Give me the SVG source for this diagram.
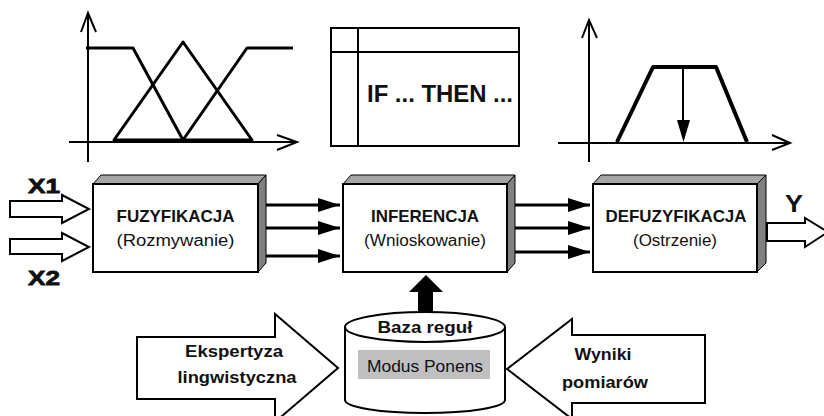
<svg xmlns="http://www.w3.org/2000/svg" width="824" height="416" viewBox="0 0 824 416">
<style>
.ln{fill:none;stroke:#000;stroke-width:2}
.mf{fill:none;stroke:#000;stroke-width:3;stroke-linejoin:round}
.front{fill:#fff;stroke:#000;stroke-width:2}
.top{fill:#a6a6a6;stroke:#000;stroke-width:1}
.side{fill:#808080;stroke:#000;stroke-width:1}
.hollow{fill:#fff;stroke:#000;stroke-width:2;stroke-linejoin:miter}
.b{font-family:"Liberation Sans",Arial,sans-serif;font-weight:bold;fill:#111}
.r{font-family:"Liberation Sans",Arial,sans-serif;fill:#111}
.conn{stroke:#000;stroke-width:3;fill:none}
</style>
<defs>
<marker id="ah" viewBox="0 0 10 10" refX="10" refY="5" markerWidth="22" markerHeight="14" markerUnits="userSpaceOnUse" orient="auto" preserveAspectRatio="none">
<path d="M0,0 L10,5 L0,10 Z" fill="#000"/>
</marker>
</defs>
<rect width="824" height="416" fill="#fff"/>

<g id="fuzzy-sets">
<path class="ln" d="M88,13 L88,162 M81,32 L88,13 L96,32 M69,142 L297,142 M277,135 L297,142 L277,150"/>
<path class="mf" d="M86,48 L133,48 L183,140"/>
<path class="mf" d="M114,140 L183,42 L252,140 Z"/>
<path class="mf" d="M183,140 L247,48 L293,48"/>
</g>

<g id="rule-table">
<rect x="331" y="28" width="188" height="118" class="ln"/>
<path class="ln" d="M331,52 L519,52 M358,28 L358,146"/>
<text class="b" x="367" y="102" font-size="23" textLength="146" lengthAdjust="spacingAndGlyphs">IF ... THEN ...</text>
</g>

<g id="defuzzy-set">
<path class="ln" d="M589,20 L589,162 M582,38 L589,20 L597,38 M558,143 L790,143 M772,135 L790,143 L772,150"/>
<path d="M617,142 L653,67 L716,67 L747,142" fill="none" stroke="#000" stroke-width="4" stroke-linejoin="round"/>
<path d="M683,67 L683,122" stroke="#000" stroke-width="2"/>
<path d="M677,120 L690,120 L683.5,142 Z" fill="#000"/>
</g>

<g id="fuzyfikacja">
<polygon class="top" points="93,184 101,175 266,175 258,184"/>
<polygon class="side" points="258,184 266,175 266,263 258,272"/>
<rect class="front" x="93" y="184" width="165" height="88"/>
<text class="b" x="175.5" y="222" font-size="17" text-anchor="middle" textLength="118" lengthAdjust="spacingAndGlyphs">FUZYFIKACJA</text>
<text class="r" x="175.5" y="246" font-size="16" text-anchor="middle" textLength="118" lengthAdjust="spacingAndGlyphs">(Rozmywanie)</text>
</g>

<g id="inferencja">
<polygon class="top" points="343,184 351,175 515,175 507,184"/>
<polygon class="side" points="507,184 515,175 515,263 507,272"/>
<rect class="front" x="343" y="184" width="164" height="88"/>
<text class="b" x="425" y="222" font-size="17" text-anchor="middle" textLength="108" lengthAdjust="spacingAndGlyphs">INFERENCJA</text>
<text class="r" x="425" y="246" font-size="16" text-anchor="middle" textLength="122" lengthAdjust="spacingAndGlyphs">(Wnioskowanie)</text>
</g>

<g id="defuzyfikacja">
<polygon class="top" points="593,184 601,175 766,175 757,184"/>
<polygon class="side" points="757,184 766,175 766,263 757,272"/>
<rect class="front" x="593" y="184" width="164" height="88"/>
<text class="b" x="676" y="222" font-size="17" text-anchor="middle" textLength="141" lengthAdjust="spacingAndGlyphs">DEFUZYFIKACJA</text>
<text class="r" x="675" y="246" font-size="16" text-anchor="middle" textLength="84" lengthAdjust="spacingAndGlyphs">(Ostrzenie)</text>
</g>

<g id="baza-regul">
<path d="M345,327 L345,400 A80,13 0 0 0 505,400 L505,327" fill="#fff" stroke="#000" stroke-width="2"/>
<ellipse cx="425" cy="327" rx="80" ry="15" fill="#fff" stroke="#000" stroke-width="2"/>
<text class="b" x="425" y="333" font-size="17" text-anchor="middle" textLength="95" lengthAdjust="spacingAndGlyphs">Baza reguł</text>
<rect x="358" y="350" width="132" height="29" fill="#c0c0c0"/>
<text class="r" x="425" y="372" font-size="16" text-anchor="middle" textLength="116" lengthAdjust="spacingAndGlyphs" fill="#222">Modus Ponens</text>
</g>

<g id="ekspertyza">
<polygon class="hollow" points="137,337 275,337 275,314 338,368 275,422 275,399 137,399"/>
<text class="b" x="234" y="357" font-size="17" text-anchor="middle" textLength="98" lengthAdjust="spacingAndGlyphs">Ekspertyza</text>
<text class="b" x="237" y="383" font-size="17" text-anchor="middle" textLength="119" lengthAdjust="spacingAndGlyphs">lingwistyczna</text>
</g>

<g id="wyniki">
<polygon class="hollow" points="705,335 572,335 572,319 507,369 572,419 572,403 705,403"/>
<text class="b" x="603" y="360" font-size="17" text-anchor="middle" textLength="57" lengthAdjust="spacingAndGlyphs">Wyniki</text>
<text class="b" x="605" y="388" font-size="17" text-anchor="middle" textLength="86" lengthAdjust="spacingAndGlyphs">pomiarów</text>
</g>

<g id="connectors">
<polygon class="hollow" points="10,201 62,201 62,195 89,209 62,223 62,217 10,217"/>
<polygon class="hollow" points="10,239 62,239 62,233 89,247 62,261 62,254 10,254"/>
<text class="b" x="28" y="193" font-size="21" textLength="32" lengthAdjust="spacingAndGlyphs" stroke="#111" stroke-width="0.8">X1</text>
<text class="b" x="28" y="285" font-size="21" textLength="32" lengthAdjust="spacingAndGlyphs" stroke="#111" stroke-width="0.8">X2</text>
<line class="conn" x1="266" y1="205" x2="340" y2="205" marker-end="url(#ah)"/>
<line class="conn" x1="266" y1="228" x2="340" y2="228" marker-end="url(#ah)"/>
<line class="conn" x1="266" y1="256" x2="340" y2="256" marker-end="url(#ah)"/>
<line class="conn" x1="515" y1="205" x2="590" y2="205" marker-end="url(#ah)"/>
<line class="conn" x1="515" y1="228" x2="590" y2="228" marker-end="url(#ah)"/>
<line class="conn" x1="515" y1="252" x2="590" y2="252" marker-end="url(#ah)"/>
<polygon points="418,312 433,312 433,292 443,292 426,275 409,292 418,292" fill="#000"/>
<polygon class="hollow" points="767,223 805,223 805,218 828,232 805,247 805,241 767,241"/>
<text class="b" x="794" y="212" font-size="23" text-anchor="middle" textLength="18" lengthAdjust="spacingAndGlyphs">Y</text>
</g>
</svg>
